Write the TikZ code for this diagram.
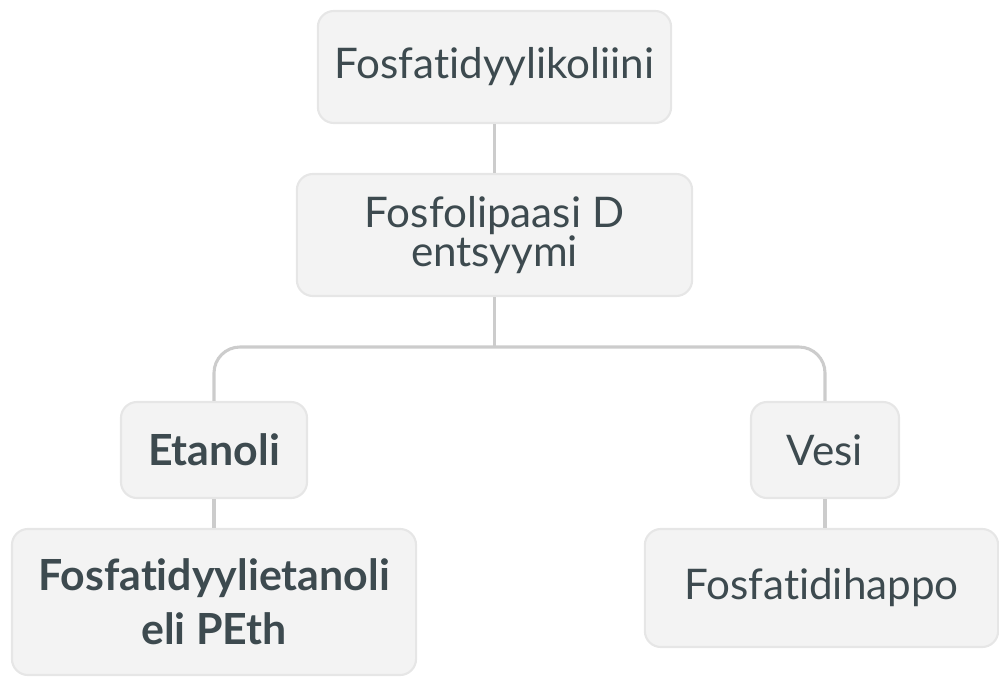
\documentclass[tikz,border=0pt]{standalone}
\usepackage{fontspec}
\setmainfont{Lato}[Ligatures=CommonOff]
\usepackage{tikz}
\definecolor{boxfill}{HTML}{F3F3F3}
\definecolor{boxline}{HTML}{E6E6E6}
\definecolor{linkgray}{HTML}{CCCCCC}
\definecolor{textgray}{HTML}{3D4A4F}
\tikzset{
every picture/.style={line width=2pt},
%%%%%%%%%%  Node styles
stepnode/.style={draw=boxline, fill=boxfill, line width=1.5pt,
                 rounded corners=0.4cm, text=textgray, align=center,
                 inner sep=0pt,
                 font=\fontsize{30}{27}\selectfont},
boldnode/.style={stepnode, font=\fontsize{30.5}{38.5}\selectfont\bfseries},
%%%% line styles:
link/.style={draw=linkgray, line width=2.2pt},
}

\begin{document}
\begin{tikzpicture}[x=0.025cm, y=-0.025cm]
\useasboundingbox (0,0) rectangle (999,677);
\node[stepnode, minimum width=8.83cm, minimum height=2.8cm] (koliini) at (494.5,67) {Fosfatidyylikoliini};
\node[stepnode, minimum width=9.88cm, minimum height=3.05cm] (entsyymi) at (494.5,235) {Fosfolipaasi D\\entsyymi};
\node[boldnode, minimum width=4.65cm, minimum height=2.4cm] (etanoli) at (214,450) {Etanoli};
\node[boldnode, minimum width=10.1cm, minimum height=3.65cm] (peth) at (214,602) {Fosfatidyylietanoli\\eli PEth};
\node[stepnode, minimum width=3.7cm, minimum height=2.4cm] (vesi) at (825,450) {Vesi};
\node[stepnode, minimum width=8.83cm, minimum height=2.95cm] (happo) at (821.5,588) {Fosfatidihappo};
\coordinate (bus) at (494.5,347);
\draw[link] (koliini) -- (entsyymi);
\draw[link] (entsyymi) -- (bus);
\draw[link, rounded corners=0.65cm] (etanoli) |- (bus) -| (vesi);
\draw[link] (etanoli) -- (peth);
\draw[link] (vesi) -- (vesi |- happo.north);
\end{tikzpicture}
\end{document}
